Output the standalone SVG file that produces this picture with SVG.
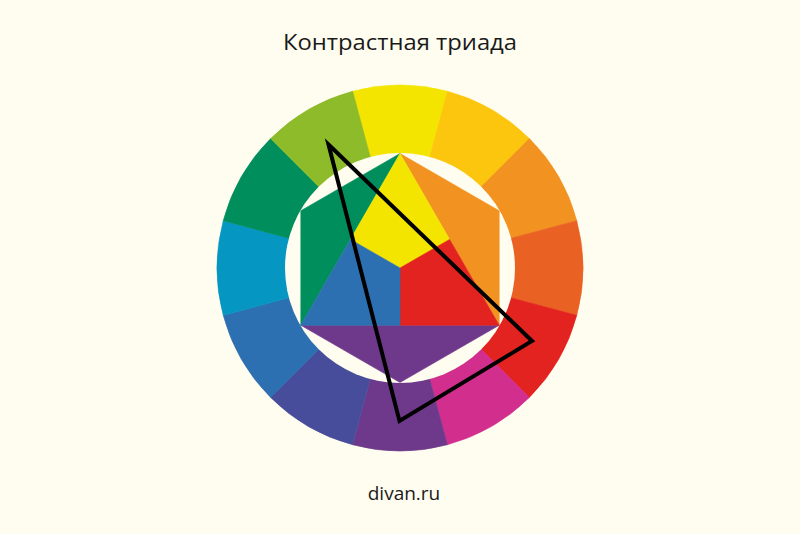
<svg xmlns="http://www.w3.org/2000/svg" width="800" height="534" viewBox="0 0 800 534">
<style>
.t{font-family:"Open Sans","Noto Sans","Liberation Sans",sans-serif;fill:#1a1a1a;text-anchor:middle}
.w{stroke-width:0.6;stroke-linejoin:round}
</style>
<rect width="800" height="534" fill="#FFFDF0"/>
<text class="t" x="400" y="50" font-size="21.5" font-weight="500" textLength="234" lengthAdjust="spacingAndGlyphs">Контрастная триада</text>
<g id="wheel">
<path class="w" fill="#F4E500" stroke="#F4E500" d="M400,268 L352.64,91.24 A183,183 0 0 1 447.36,91.24 Z"/>
<path class="w" fill="#FDC60E" stroke="#FDC60E" d="M400,268 L447.36,91.24 A183,183 0 0 1 529.40,138.60 Z"/>
<path class="w" fill="#F29220" stroke="#F29220" d="M400,268 L529.40,138.60 A183,183 0 0 1 576.76,220.64 Z"/>
<path class="w" fill="#EA6223" stroke="#EA6223" d="M400,268 L576.76,220.64 A183,183 0 0 1 576.76,315.36 Z"/>
<path class="w" fill="#E3231F" stroke="#E3231F" d="M400,268 L576.76,315.36 A183,183 0 0 1 529.40,397.40 Z"/>
<path class="w" fill="#D12E8D" stroke="#D12E8D" d="M400,268 L529.40,397.40 A183,183 0 0 1 447.36,444.76 Z"/>
<path class="w" fill="#6F398B" stroke="#6F398B" d="M400,268 L447.36,444.76 A183,183 0 0 1 352.64,444.76 Z"/>
<path class="w" fill="#474D9A" stroke="#474D9A" d="M400,268 L352.64,444.76 A183,183 0 0 1 270.60,397.40 Z"/>
<path class="w" fill="#2C70B2" stroke="#2C70B2" d="M400,268 L270.60,397.40 A183,183 0 0 1 223.24,315.36 Z"/>
<path class="w" fill="#0596C2" stroke="#0596C2" d="M400,268 L223.24,315.36 A183,183 0 0 1 223.24,220.64 Z"/>
<path class="w" fill="#008F5C" stroke="#008F5C" d="M400,268 L223.24,220.64 A183,183 0 0 1 270.60,138.60 Z"/>
<path class="w" fill="#8DBB29" stroke="#8DBB29" d="M400,268 L270.60,138.60 A183,183 0 0 1 352.64,91.24 Z"/>
<circle cx="400" cy="268" r="115" fill="#FFFDF0"/>
</g>
<g id="hexagon">
<path class="w" fill="#F29220" stroke="#F29220" d="M400,153.5 L499.2,210.75 L499.2,325.25 Z"/>
<path class="w" fill="#008F5C" stroke="#008F5C" d="M400,153.5 L300.8,210.75 L300.8,325.25 Z"/>
<path class="w" fill="#6F398B" stroke="#6F398B" d="M300.8,325.25 L400,382.5 L499.2,325.25 Z"/>
<path class="w" fill="#F4E500" stroke="#F4E500" d="M400,153.5 L449.6,239.4 L400,268 L350.4,239.4 Z"/>
<path class="w" fill="#E3231F" stroke="#E3231F" d="M449.6,239.4 L499.2,325.25 L400,325.25 L400,268 Z"/>
<path class="w" fill="#2C70B2" stroke="#2C70B2" d="M350.4,239.4 L400,268 L400,325.25 L300.8,325.25 Z"/>
</g>
<g id="connectors">
<path d="M328.5,144.5 L532,341 L399.5,421 Z" fill="none" stroke="#000" stroke-width="4" stroke-linejoin="miter" stroke-miterlimit="10"/>
</g>
<text class="t" x="404" y="500" font-size="19">divan.ru</text>
</svg>
